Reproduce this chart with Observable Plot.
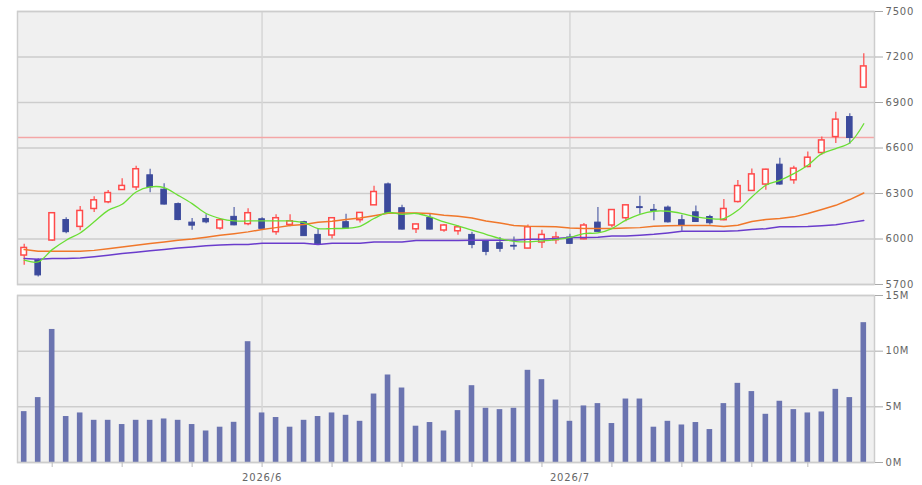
<!DOCTYPE html>
<html><head><meta charset="utf-8">
<script src="https://cdn.jsdelivr.net/npm/d3@7"></script>
<script src="https://cdn.jsdelivr.net/npm/@observablehq/plot@0.6"></script>
<style>
html,body{margin:0;padding:0;background:#fff;}
#chart{position:relative;width:922px;height:485px;overflow:hidden;}
#chart svg{position:absolute;left:0;}
</style></head><body><div id="chart"></div>
<script>
const dates = ["2026-05-07","2026-05-08","2026-05-11","2026-05-12","2026-05-13","2026-05-14","2026-05-15","2026-05-18","2026-05-19","2026-05-20","2026-05-21","2026-05-22","2026-05-25","2026-05-26","2026-05-27","2026-05-28","2026-05-29","2026-06-01","2026-06-02","2026-06-03","2026-06-04","2026-06-05","2026-06-08","2026-06-09","2026-06-10","2026-06-11","2026-06-12","2026-06-15","2026-06-16","2026-06-17","2026-06-18","2026-06-19","2026-06-22","2026-06-23","2026-06-24","2026-06-25","2026-06-26","2026-06-29","2026-06-30","2026-07-01","2026-07-02","2026-07-03","2026-07-06","2026-07-07","2026-07-08","2026-07-09","2026-07-10","2026-07-13","2026-07-14","2026-07-15","2026-07-16","2026-07-17","2026-07-21","2026-07-22","2026-07-23","2026-07-24","2026-07-27","2026-07-28","2026-07-29","2026-07-30","2026-07-31"];
const open = [5891,5860,5990,6125,6080,6198,6242,6323,6340,6420,6325,6230,6108,6132,6069,6146,6098,6130,6045,6093,6111,6027,6023,6111,6124,6222,6360,6203,6064,6139,6056,6051,6027,5987,5972,5955,5937,5977,5992,6010,5998,6108,6089,6137,6210,6192,6207,6124,6176,6145,6124,6244,6317,6359,6490,6387,6475,6567,6672,6804,6998];
const high = [5965,5870,6175,6140,6215,6278,6320,6398,6480,6460,6365,6237,6135,6160,6135,6207,6200,6140,6160,6160,6117,6062,6140,6163,6175,6348,6370,6222,6098,6167,6096,6085,6045,5990,6010,6014,6092,6058,6045,6031,6103,6207,6193,6225,6282,6227,6218,6157,6218,6157,6260,6385,6461,6460,6532,6479,6573,6672,6835,6826,7221];
const low = [5827,5750,5985,6035,6055,6175,6233,6320,6320,6305,6225,6120,6058,6100,6058,6088,6088,6065,6025,6080,6019,5963,6000,6069,6106,6222,6170,6060,6036,6060,6045,6025,5935,5890,5913,5926,5935,5937,5965,5965,5995,6045,6075,6113,6163,6120,6105,6051,6110,6093,6120,6237,6315,6321,6355,6361,6470,6552,6629,6624,6995];
const close = [5941,5760,6170,6045,6185,6255,6303,6350,6460,6340,6227,6125,6088,6110,6124,6090,6170,6067,6137,6117,6019,5965,6137,6069,6172,6310,6172,6062,6096,6062,6089,6077,5961,5915,5935,5950,6077,6027,6010,5968,6089,6047,6191,6222,6204,6185,6110,6087,6112,6104,6198,6349,6426,6457,6359,6464,6536,6650,6787,6666,7138];
const volumeM = [4.57,5.83,11.95,4.13,4.45,3.79,3.79,3.41,3.79,3.79,3.91,3.79,3.41,2.83,3.17,3.61,10.85,4.45,4.04,3.17,3.79,4.13,4.45,4.24,3.70,6.15,7.86,6.69,3.26,3.59,2.83,4.66,6.9,4.87,4.75,4.87,8.28,7.44,5.61,3.70,5.08,5.29,3.50,5.70,5.70,3.17,3.70,3.37,3.59,2.96,5.29,7.11,6.37,4.33,5.50,4.75,4.45,4.54,6.57,5.83,12.56];
const ma5 = [5860,5849,5930,5992,6040,6113,6189,6229,6310,6343,6339,6288,6233,6168,6135,6119,6119,6119,6119,6119,6108,6069,6069,6071,6084,6135,6174,6163,6168,6146,6113,6087,6058,6031,6003,5985,5981,5987,5996,6010,6036,6040,6069,6124,6163,6183,6183,6168,6146,6135,6135,6189,6277,6354,6387,6431,6486,6563,6596,6635,6760];
const ma25 = [5930,5919,5919,5919,5919,5925,5936,5948,5958,5970,5981,5992,6000,6012,6025,6035,6047,6062,6075,6089,6096,6111,6117,6128,6139,6154,6170,6172,6172,6168,6157,6150,6139,6119,6106,6089,6084,6082,6080,6073,6069,6069,6069,6073,6075,6084,6087,6089,6089,6089,6082,6091,6115,6128,6135,6146,6168,6194,6222,6260,6303];
const ma75 = [5871,5867,5871,5871,5875,5883,5893,5904,5912,5922,5930,5940,5948,5955,5960,5963,5963,5972,5972,5972,5972,5963,5972,5972,5972,5981,5981,5981,5990,5990,5990,5990,5992,5992,5992,5992,5998,5998,6003,6010,6010,6012,6020,6020,6025,6031,6040,6051,6051,6051,6051,6055,6062,6068,6080,6080,6082,6088,6094,6108,6122];
const refLine = 6670;
const priceTicks = [5700,6000,6300,6600,6900,7200,7500];
const volTicks = [0,5e6,10e6,15e6];
const weekStarts = ["2026-05-11","2026-05-18","2026-05-25","2026-06-01","2026-06-08","2026-06-15","2026-06-22","2026-06-29","2026-07-06","2026-07-13","2026-07-21","2026-07-27"];
const monthStarts = ["2026-06-01","2026-07-01"];
const monthLabels = ["2026/6","2026/7"];

const RED = "#ff4a4a", BLUE = "#3c4a9c", VOLC = "#6b74b0";
const candles = dates.map((d, i) => ({d, o: open[i], h: high[i], l: low[i], c: close[i], up: close[i] >= open[i],
  v: volumeM[i] * 1e6, ma5: ma5[i], ma25: ma25[i], ma75: ma75[i]}));
const monthLabelOf = new Map(monthStarts.map((d, k) => [d, monthLabels[k]]));

const xOpts = () => ({type: "band", domain: dates, range: [16.7, 870.3], paddingInner: 0.6, paddingOuter: 0.3, align: 0.5, axis: null});
const baseStyle = {background: "transparent", fontFamily: "DejaVu Sans", fontSize: "10px", color: "#666", letterSpacing: "0.8px", overflow: "visible"};
const GRID = "#cdcdcd";

const price = Plot.plot({
  width: 922, height: 292,
  marginTop: 11, marginBottom: 8, marginLeft: 17, marginRight: 48,
  style: baseStyle,
  x: xOpts(),
  y: {domain: [5700, 7500], axis: null},
  marks: [
    Plot.frame({fill: "#f0f0f0"}),
    Plot.gridY(priceTicks, {stroke: GRID, strokeOpacity: 1, strokeWidth: 1.5}),
    Plot.ruleX(monthStarts, {stroke: "#d6d6d6", strokeWidth: 1.5}),
    Plot.ruleY([refLine], {stroke: "#f4a6a6", strokeWidth: 1.5}),
    Plot.ruleX(candles, {x: "d", y1: "l", y2: "h", stroke: d => d.up ? RED : "#5563a8", strokeWidth: 1.2}),
    Plot.barY(candles, {x: "d", y1: "o", y2: "c", fill: d => d.up ? "#ffffff" : BLUE, stroke: d => d.up ? RED : BLUE, strokeWidth: d => d.up ? 1.5 : 1}),
    Plot.line(candles, {x: "d", y: "ma75", stroke: "#6a3ccc", strokeWidth: 1.5}),
    Plot.line(candles, {x: "d", y: "ma25", stroke: "#f0772a", strokeWidth: 1.5}),
    Plot.line(candles, {x: "d", y: "ma5", stroke: "#6ade34", strokeWidth: 1.3, curve: "catmull-rom"}),
    Plot.frame({stroke: GRID, strokeWidth: 1.5}),
    Plot.axisY(priceTicks, {anchor: "right", label: null, tickSize: 8, tickPadding: 3, stroke: "#aaaaaa", fill: "#666", tickFormat: d => String(d)})
  ]
});
price.style.top = "0px";

const volume = Plot.plot({
  width: 922, height: 202,
  marginTop: 12, marginBottom: 23, marginLeft: 17, marginRight: 48,
  style: baseStyle,
  x: xOpts(),
  y: {domain: [0, 15e6], axis: null},
  marks: [
    Plot.frame({fill: "#f0f0f0"}),
    Plot.gridY(volTicks, {stroke: GRID, strokeOpacity: 1, strokeWidth: 1.5}),
    Plot.ruleX(monthStarts, {stroke: "#d6d6d6", strokeWidth: 1.5}),
    Plot.barY(candles, {x: "d", y: "v", fill: VOLC}),
    Plot.frame({stroke: GRID, strokeWidth: 1.5}),
    Plot.axisY(volTicks, {anchor: "right", label: null, tickSize: 8, tickPadding: 3, stroke: "#aaaaaa", fill: "#666", tickFormat: d => (d / 1e6) + "M"}),
    Plot.axisX(weekStarts, {anchor: "bottom", label: null, tickSize: 5, stroke: "#bbbbbb", tickFormat: () => ""}),
    Plot.axisX(monthStarts, {anchor: "bottom", label: null, tickSize: 0, tickPadding: 11, fill: "#666", tickFormat: d => monthLabelOf.get(d)})
  ]
});
volume.style.top = "283px";

const root = document.getElementById("chart");
root.appendChild(price);
root.appendChild(volume);
</script></body></html>
